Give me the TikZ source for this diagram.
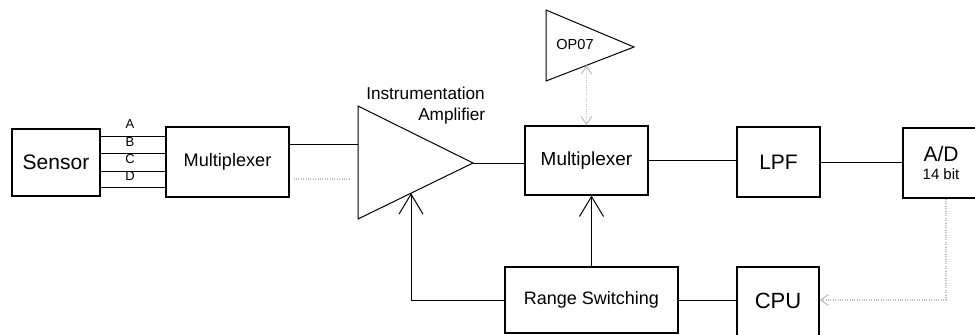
\documentclass[tikz,border=0pt]{standalone}
\usepackage{fontspec}
\setmainfont{Liberation Sans}
\usetikzlibrary{arrows.meta,calc}
\begin{document}
\begin{tikzpicture}[x=0.75pt,y=-0.75pt,
  box/.style={draw,line width=0.8pt,inner sep=0pt,align=center},
  wire/.style={line width=0.75pt},
  faint/.style={draw=gray!50,line width=0.8pt,densely dotted},
  vtip/.style={-{Straight Barb[length=15pt,width=18pt,line width=0.75pt]}},
  gtip/.style={{Straight Barb[length=6pt,width=8pt]}-{Straight Barb[length=6pt,width=8pt]}},
  gend/.style={-{Straight Barb[length=6pt,width=8pt]}},
  lbl/.style={inner sep=0pt}
]
\useasboundingbox (0,0) rectangle (975,335);

% blocks
\node[box,minimum width=66pt,minimum height=50.25pt,font=\fontsize{15.75pt}{18pt}\selectfont] (sensor) at (56,162.5) {Sensor};
\node[box,minimum width=92.25pt,minimum height=52.5pt,font=\fontsize{13.6pt}{16pt}\selectfont] (mux1) at (227.5,162) {Multiplexer};
\node[box,minimum width=92.25pt,minimum height=51.75pt,font=\fontsize{14.2pt}{16pt}\selectfont] (mux2) at (586.5,160.5) {Multiplexer};
\node[box,minimum width=62.25pt,minimum height=52.5pt,font=\fontsize{15.75pt}{18pt}\selectfont] (lpf) at (778.5,162) {LPF};
\node[box,minimum width=57pt,minimum height=52.5pt] (adc) at (941,163)
  {{\fontsize{15.75pt}{18pt}\selectfont A/D}\\[1pt]{\fontsize{11.25pt}{13pt}\selectfont 14 bit}};
\node[box,minimum width=129.75pt,minimum height=49.5pt,font=\fontsize{13.5pt}{16pt}\selectfont] (rs) at (591.5,300) {Range Switching};
\node[box,minimum width=61.5pt,minimum height=53.25pt,font=\fontsize{16.5pt}{19pt}\selectfont] (cpu) at (778,302.5) {\raisebox{1.9pt}{CPU}};

% instrumentation amplifier triangle
\coordinate (ampTL) at (358,106);
\coordinate (ampBL) at (358,219);
\coordinate (ampO) at (473,163);
\draw[wire] (ampTL) -- (ampO) -- (ampBL) -- cycle;
\coordinate (ampIn1) at (358,144);
\coordinate (ampIn2) at (358,179);
\coordinate (ampFB) at ($(ampBL)!0.461!(ampO)$);
\node[lbl,anchor=base west,font=\fontsize{12.9pt}{15pt}\selectfont] (instr) at (366,99) {Instrumentation};
\node[lbl,anchor=base west,font=\fontsize{12.9pt}{15pt}\selectfont] (ampl) at (418,121) {Amplifier};

% OP07 triangle
\coordinate (opTL) at (546,10);
\coordinate (opBL) at (546,81);
\coordinate (opO) at (634,47);
\draw[wire] (opTL) -- (opO) -- (opBL) -- cycle;
\node[lbl,font=\fontsize{10.9pt}{13pt}\selectfont] (op) at (575,44) {OP07};
\coordinate (opFB) at ($(opBL)!0.466!(opO)$);

% sensor to multiplexer lines
\foreach \yy/\nm in {136/a,153/b,171/c,187/d}{
  \coordinate (s\nm) at (100,\yy);
  \draw[wire] (s\nm) -- (s\nm -| mux1.west);
}
\node[lbl,font=\fontsize{9.75pt}{12pt}\selectfont] (lA) at (130,124.5) {A};
\node[lbl,font=\fontsize{9.75pt}{12pt}\selectfont] (lB) at (130,142) {B};
\node[lbl,font=\fontsize{9.75pt}{12pt}\selectfont] (lC) at (130,159.5) {C};
\node[lbl,font=\fontsize{9.75pt}{12pt}\selectfont] (lD) at (130,176) {D};

% signal chain
\draw[wire] (mux1.east |- ampIn1) -- (ampIn1);
\draw[faint] (mux1.east |- ampIn2) ++(4,0) -- ($(ampIn2)+(-8,0)$);
\draw[wire] (ampO) -- (ampO -| mux2.west);
\draw[wire] (mux2.east) -- (mux2.east -| lpf.west);
\draw[wire] (lpf.east) -- (lpf.east -| adc.west);

% control
\draw[wire] (rs.east) -- (rs.east -| cpu.west);
\draw[wire,vtip] (rs.west) -| (ampFB);
\draw[wire,vtip] (rs.north) -- (rs.north |- mux2.south);

% faint gray links
\draw[faint,gtip] (mux2.north) -- (mux2.north |- opFB);
\coordinate (adcTap) at ($(adc.south)+(5,0)$);
\draw[faint,gend] (adcTap) |- (rs.east -| cpu.east);
\end{tikzpicture}
\end{document}
